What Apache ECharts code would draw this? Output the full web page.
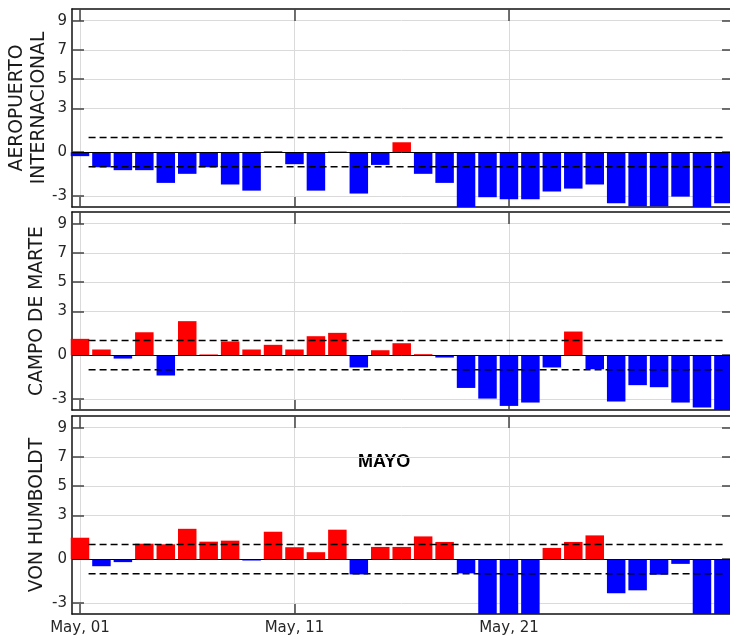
<!DOCTYPE html>
<html><head><meta charset="utf-8">
<script src="https://cdn.jsdelivr.net/npm/echarts@6/dist/echarts.min.js"></script>
<style>html,body{margin:0;padding:0;background:#fff}#c{width:730px;height:637px}</style>
</head><body><div id="c"></div>
<script>
const days = [1,2,3,4,5,6,7,8,9,10,11,12,13,14,15,16,17,18,19,20,21,22,23,24,25,26,27,28,29,30,31];
const aeropuerto = [-0.27,-1.03,-1.23,-1.23,-2.1,-1.48,-1.03,-2.21,-2.63,0.07,-0.82,-2.63,0.05,-2.83,-0.87,0.68,-1.48,-2.1,-4.2,-3.08,-3.22,-3.22,-2.69,-2.49,-2.21,-3.49,-3.7,-3.7,-3.04,-4.2,-3.49];
const campoDeMarte = [1.12,0.39,-0.23,1.57,-1.39,2.33,0.05,0.94,0.39,0.71,0.39,1.3,1.53,-0.84,0.34,0.82,0.07,-0.16,-2.24,-2.97,-3.47,-3.24,-0.84,1.62,-0.96,-3.17,-2.05,-2.19,-3.24,-3.58,-4.0];
const vonHumboldt = [1.47,-0.48,-0.2,1.06,1.02,2.08,1.2,1.27,-0.09,1.88,0.82,0.48,2.02,-1.04,0.84,0.84,1.56,1.18,-0.97,-4.5,-4.5,-4.5,0.77,1.18,1.63,-2.33,-2.13,-1.06,-0.32,-4.5,-4.5];
const stationNames = ['AEROPUERTO\nINTERNACIONAL', 'CAMPO DE MARTE', 'VON HUMBOLDT'];
const yTicks = [-3, 0, 3, 5, 7, 9];
const xTicks = [1, 11, 21];
const thresholds = [1, -1];
const thresholdSpan = [1.4, 31];
const monthLabel = 'MAYO';

const seriesValues = [aeropuerto, campoDeMarte, vonHumboldt];
const tops = [9, 212, 416];
const H = 198;
const XMIN = 0.627, XMAX = 31.40;
const YMIN = -3.75, YMAX = 9.8;
const FONT = 'DejaVu Sans';
const pad2 = v => (v < 10 ? '0' : '') + v;

const grid = [], xAxis = [], yAxis = [], series = [];
const frame = {show: true, onZero: false, lineStyle: {color: '#111', width: 1.5}};
for (let i = 0; i < 3; i++) {
  grid.push({left: 72, right: -2, top: tops[i], height: H, containLabel: false, outerBoundsMode: 'none'});
  xAxis.push({type: 'value', gridIndex: i, position: 'bottom', min: XMIN, max: XMAX,
    axisLine: frame,
    axisTick: {show: true, inside: true, length: 10, customValues: xTicks, lineStyle: {color: '#444', width: 1.5}},
    axisLabel: {show: i === 2, customValues: xTicks, formatter: v => 'May, ' + pad2(v), color: '#262626', fontSize: 15, fontFamily: FONT, margin: 7},
    splitLine: {show: true, lineStyle: {color: '#dadada', width: 1}}});
  xAxis.push({type: 'value', gridIndex: i, position: 'top', min: XMIN, max: XMAX,
    axisLine: frame,
    axisTick: {show: true, inside: true, length: 12, customValues: xTicks, lineStyle: {color: '#444', width: 1.5}},
    axisLabel: {show: false}, splitLine: {show: false}});
  yAxis.push({type: 'value', gridIndex: i, position: 'left', min: YMIN, max: YMAX,
    name: stationNames[i], nameLocation: 'middle', nameGap: i === 0 ? 22 : 24, nameMoveOverlap: false,
    nameTextStyle: {fontSize: 18.7, color: '#1a1a1a', fontFamily: FONT, lineHeight: 22},
    axisLine: frame,
    axisTick: {show: true, inside: true, length: 12, customValues: yTicks, lineStyle: {color: '#444', width: 1.5}},
    axisLabel: {customValues: yTicks, color: '#262626', fontSize: 15, fontFamily: FONT, margin: 5},
    splitLine: {show: true, lineStyle: {color: '#dadada', width: 1}}});
  yAxis.push({type: 'value', gridIndex: i, position: 'right', min: YMIN, max: YMAX,
    axisLine: frame,
    axisTick: {show: true, inside: true, length: 10, customValues: yTicks, lineStyle: {color: '#444', width: 1.5}},
    axisLabel: {show: false}, splitLine: {show: false}});
  const vals = seriesValues[i];
  series.push({type: 'bar', xAxisIndex: 2 * i, yAxisIndex: 2 * i,
    data: days.map((d, k) => [d, vals[k]]), barWidth: 18.5,
    itemStyle: {color: p => (p.value[1] >= 0 ? '#ff0000' : '#0000ff')},
    markLine: {silent: true, symbol: 'none', label: {show: false},
      lineStyle: {color: '#000', width: 1, type: 'solid'}, data: [{yAxis: 0}]}});
  thresholds.forEach(t => {
    series.push({type: 'line', xAxisIndex: 2 * i, yAxisIndex: 2 * i, symbol: 'none', silent: true,
      data: thresholdSpan.map(x => [x, t]),
      lineStyle: {color: '#000', width: 1.5, type: [7, 4]}, z: 5});
  });
}

const chart = echarts.init(document.getElementById('c'));
chart.setOption({
  animation: false,
  backgroundColor: '#fff',
  grid, xAxis, yAxis, series,
  graphic: [{type: 'text', left: 358, top: 453,
    style: {text: monthLabel, fontSize: 18, fontWeight: 'bold', fontFamily: 'Liberation Sans', fill: '#000'}}]
});
</script></body></html>
